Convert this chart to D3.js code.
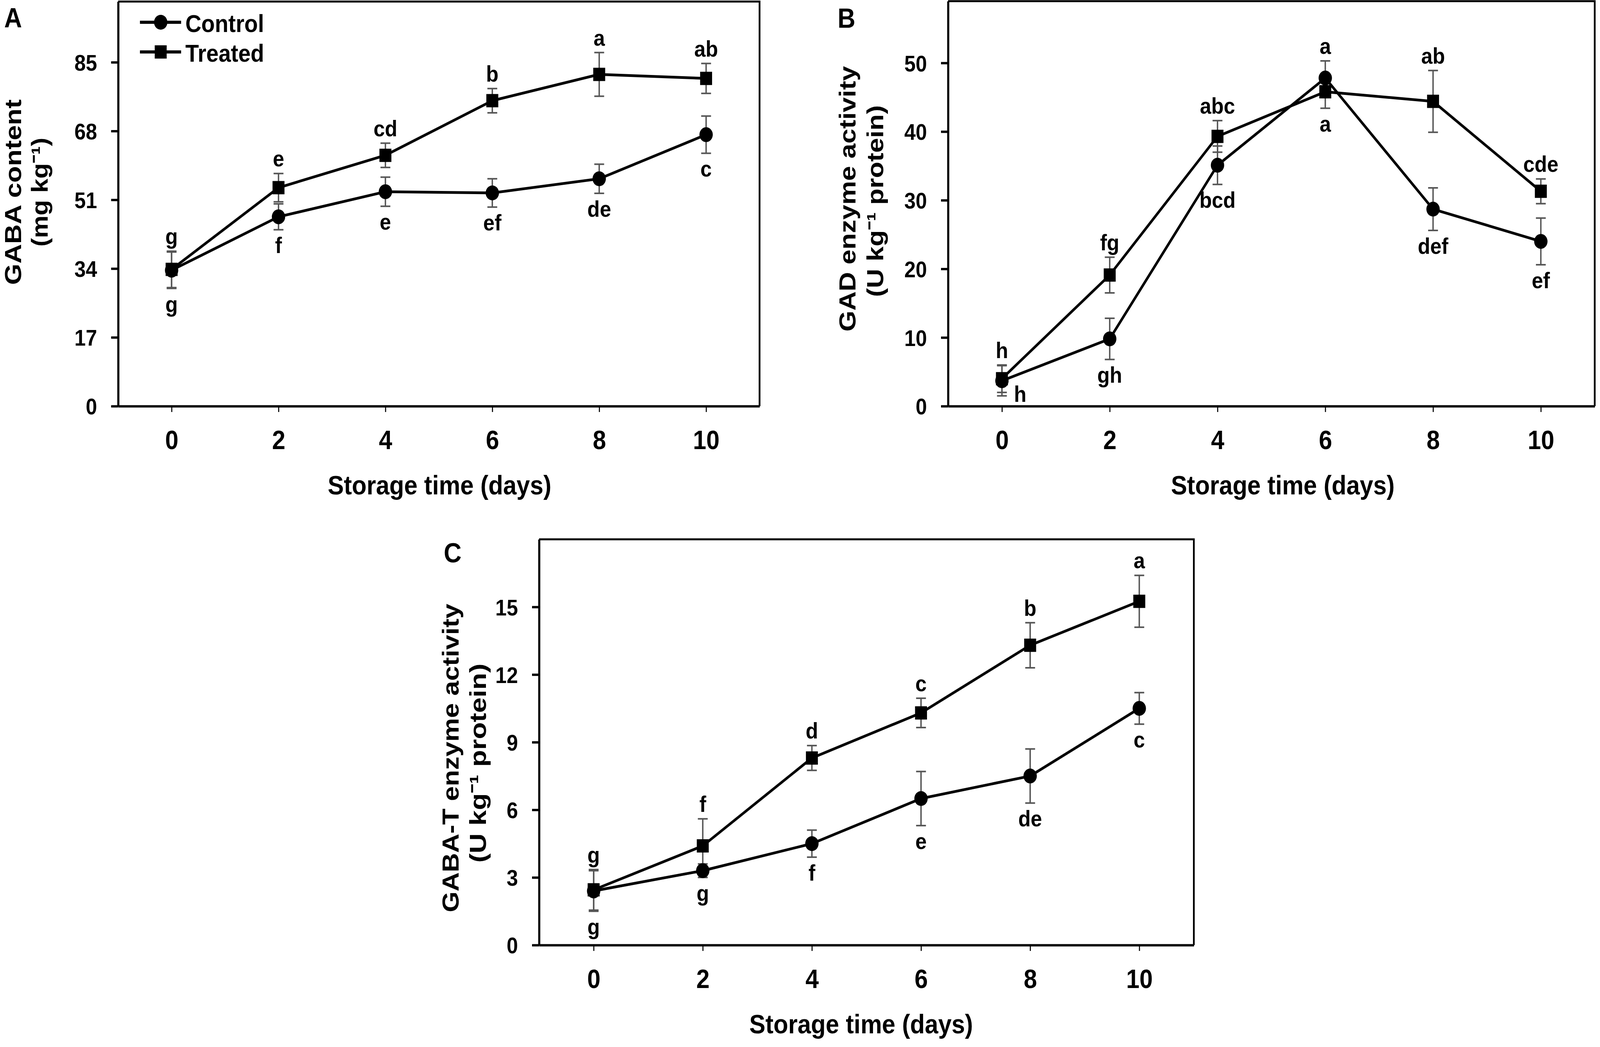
<!DOCTYPE html>
<html>
<head>
<meta charset="UTF-8">
<title>GABA, GAD and GABA-T during storage</title>
<script src="https://cdn.jsdelivr.net/npm/d3@7"></script>
<style>
    html,body{margin:0;padding:0;background:#fff;overflow:hidden;}
    #chart svg{display:block;width:100vw;height:100vh;}
    text{font-family:"Liberation Sans",Arial,Helvetica,sans-serif;font-weight:bold;fill:#000;}
    .axis path,.axis line{stroke:#000;}
    .err{stroke:#555;stroke-width:4;}
    .series{fill:none;stroke:#000;stroke-width:7;stroke-linejoin:round;}
</style>
</head>
<body>
<div id="chart"></div>
<script>
    // storage days (x axis)
    var days=[0,2,4,6,8,10];
    var seriesNames=['Control','Treated'];

    // A: GABA content (mg kg-1)
    var gabaControl=[33.6,46.8,53.0,52.7,56.2,67.1];
    var gabaControlErr=[4.5,3.2,3.6,3.5,3.6,4.6];
    var gabaTreated=[33.8,54.0,62.0,75.5,82.0,81.0];
    var gabaTreatedErr=[4.5,3.5,3.0,3.0,5.4,3.7];
    var gabaControlLetters=['g','f','e','ef','de','c'];
    var gabaTreatedLetters=['g','e','cd','b','a','ab'];
    var gabaTicks=[0,17,34,51,68,85];

    // B: GAD enzyme activity (U kg-1 protein)
    var gadControl=[3.7,9.8,35.1,47.8,28.7,24.0];
    var gadControlErr=[2.2,3.0,2.8,2.5,3.1,3.4];
    var gadTreated=[4.0,19.1,39.3,45.8,44.4,31.3];
    var gadTreatedErr=[2.0,2.6,2.3,2.4,4.5,1.8];
    var gadControlLetters=['h','gh','bcd','a','def','ef'];
    var gadTreatedLetters=['h','fg','abc','a','ab','cde'];
    var gadTicks=[0,10,20,30,40,50];

    // C: GABA-T enzyme activity (U kg-1 protein)
    var gabatControl=[2.4,3.3,4.5,6.5,7.5,10.5];
    var gabatControlErr=[0.9,0.3,0.6,1.2,1.2,0.7];
    var gabatTreated=[2.45,4.4,8.3,10.3,13.3,15.25];
    var gabatTreatedErr=[0.9,1.2,0.55,0.65,1.0,1.15];
    var gabatControlLetters=['g','g','f','e','de','c'];
    var gabatTreatedLetters=['g','f','d','c','b','a'];
    var gabatTicks=[0,3,6,9,12,15];

    // drawn in a 4550x2681 user space, stretched to the window
    var svg=d3.select('#chart').append('svg')
            .attr('viewBox','0 0 4550 2681')
            .attr('preserveAspectRatio','none');

    var symCircle=d3.symbol().type(d3.symbolCircle).size(1134);
    var symSquare=d3.symbol().type(d3.symbolSquare).size(1156);

    function makeSeries(vals,errs,letters){
        return days.map(function(d,i){
            return {day:d,v:vals[i],e:errs[i],l:letters[i]};
        });
    }

    function drawPanel(p){
        var x=d3.scaleLinear().domain([-1,11]).range([p.left,p.right]);
        var y=d3.scaleLinear().domain([0,p.yMax]).range([p.bottom,p.top]);
        var g=svg.append('g');

        // top and right of the box
        g.append('path')
                .attr('d','M'+p.left+','+p.top+'H'+p.right+'V'+p.bottom)
                .attr('fill','none')
                .attr('stroke','#000')
                .attr('stroke-width',5);

        var yAxis=g.append('g')
                .attr('class','axis')
                .attr('transform','translate('+p.left+',0)')
                .call(d3.axisLeft(y).tickValues(p.yTicks).tickSize(20).tickSizeOuter(0).tickPadding(40));
        yAxis.select('.domain').attr('stroke-width',6);
        yAxis.selectAll('.tick line').attr('stroke-width',6);
        yAxis.selectAll('text').attr('font-size',58).attr('font-family',null).attr('dy','0.36em');

        var xAxis=g.append('g')
                .attr('class','axis')
                .attr('transform','translate(0,'+p.bottom+')')
                .call(d3.axisBottom(x).tickValues(days).tickSize(15).tickSizeOuter(0).tickPadding(47));
        xAxis.select('.domain').attr('stroke-width',6);
        xAxis.selectAll('.tick line').attr('stroke','#bbb').attr('stroke-width',3);
        xAxis.selectAll('text').attr('font-size',68).attr('font-family',null);

        // axis titles
        g.append('text')
                .attr('x',p.xTitleX)
                .attr('y',p.bottom+226)
                .attr('text-anchor','middle')
                .attr('font-size',68)
                .attr('textLength',636)
                .attr('lengthAdjust','spacingAndGlyphs')
                .text('Storage time (days)');
        p.yTitle.forEach(function(t,i){
            g.append('text')
                    .attr('transform','translate('+t.x+','+t.cy+') rotate(-90)')
                    .attr('text-anchor','middle')
                    .attr('font-size',66)
                    .attr('textLength',t.len)
                    .attr('lengthAdjust','spacingAndGlyphs')
                    .text(t.text);
        });

        // panel letter
        g.append('text')
                .attr('x',p.tag.x)
                .attr('y',p.tag.y)
                .attr('font-size',70)
                .text(p.tag.text);

        var line=d3.line()
                .x(function(d){return x(d.day)})
                .y(function(d){return y(d.v)});

        var all=[p.control,p.treated];
        // error bars
        all.forEach(function(s){
            var eb=g.selectAll(null).data(s).enter().append('g').attr('class','err');
            eb.append('line')
                    .attr('x1',function(d){return x(d.day)}).attr('x2',function(d){return x(d.day)})
                    .attr('y1',function(d){return y(d.v+d.e)}).attr('y2',function(d){return y(d.v-d.e)});
            [1,-1].forEach(function(sg){
                eb.append('line')
                        .attr('x1',function(d){return x(d.day)-14}).attr('x2',function(d){return x(d.day)+14})
                        .attr('y1',function(d){return y(d.v+sg*d.e)}).attr('y2',function(d){return y(d.v+sg*d.e)});
            });
        });
        all.forEach(function(s,k){
            g.append('path').datum(s).attr('class','series').attr('d',line);
            g.selectAll(null).data(s).enter().append('path')
                    .attr('transform',function(d){return 'translate('+x(d.day)+','+y(d.v)+')'})
                    .attr('d',k==0?symCircle:symSquare)
                    .attr('fill','#000');
        });

        // significance letters: higher series above, lower below
        all.forEach(function(s,k){
            var other=all[1-k];
            g.selectAll(null).data(s).enter().append('text')
                    .attr('text-anchor','middle')
                    .attr('font-size',58)
                    .each(function(d,i){
                        var up=k==1?d.v>=other[i].v:d.v>other[i].v;
                        var tx=x(d.day),ty;
                        if(up){
                            ty=y(d.v+d.e)-18;
                        }else{
                            ty=y(d.v-d.e)+60;
                            if(ty>p.bottom-10){ty=p.bottom-11;tx+=52;}
                        }
                        d3.select(this).attr('x',tx).attr('y',ty);
                    })
                    .text(function(d){return d.l});
        });

        if(p.legend){
            var lg=g.append('g');
            seriesNames.forEach(function(n,k){
                var ly=57+k*76;
                lg.append('line').attr('x1',398).attr('x2',515).attr('y1',ly).attr('y2',ly)
                        .attr('stroke','#000').attr('stroke-width',8);
                lg.append('path').attr('transform','translate(457,'+ly+')')
                        .attr('d',k==0?symCircle:symSquare).attr('fill','#000');
                lg.append('text').attr('x',527).attr('y',ly+25).attr('font-size',63).text(n);
            });
        }
    }

    drawPanel({
        left:336,right:2160,top:4,bottom:1040,yMax:100,yTicks:gabaTicks,
        control:makeSeries(gabaControl,gabaControlErr,gabaControlLetters),
        treated:makeSeries(gabaTreated,gabaTreatedErr,gabaTreatedLetters),
        xTitleX:1250,
        yTitle:[{text:'GABA content',x:60,cy:492,len:475},{text:'(mg kg\u207B\u00B9)',x:136,cy:492,len:279}],
        tag:{text:'A',x:12,y:70},
        legend:true
    });
    drawPanel({
        left:2696,right:4535,top:3,bottom:1040,yMax:59,yTicks:gadTicks,
        control:makeSeries(gadControl,gadControlErr,gadControlLetters),
        treated:makeSeries(gadTreated,gadTreatedErr,gadTreatedLetters),
        xTitleX:3648,
        yTitle:[{text:'GAD enzyme activity',x:2433,cy:509,len:680},{text:'(U kg\u207B\u00B9 protein)',x:2512,cy:515,len:491}],
        tag:{text:'B',x:2382,y:71},
        legend:false
    });
    drawPanel({
        left:1533,right:3395,top:1381,bottom:2420,yMax:18,yTicks:gabatTicks,
        control:makeSeries(gabatControl,gabatControlErr,gabatControlLetters),
        treated:makeSeries(gabatTreated,gabatTreatedErr,gabatTreatedLetters),
        xTitleX:2449,
        yTitle:[{text:'GABA-T enzyme activity',x:1304,cy:1941,len:790},{text:'(U kg\u207B\u00B9 protein)',x:1382,cy:1954,len:510}],
        tag:{text:'C',x:1262,y:1440},
        legend:false
    });
</script>
</body>
</html>
